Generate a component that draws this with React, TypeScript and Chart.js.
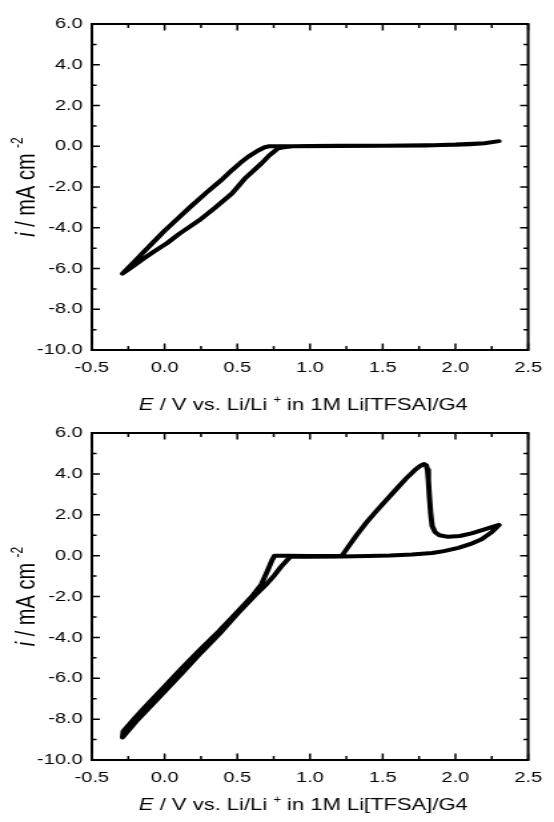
import React, { useEffect, useRef } from "react";
import { Chart, registerables } from "chart.js";

Chart.register(...registerables);

// ---- data ----
const xMajorTicks = [-0.5, 0.0, 0.5, 1.0, 1.5, 2.0, 2.5];
const xMinorTicks = [-0.25, 0.25, 0.75, 1.25, 1.75, 2.25];
const yMajorTicks = [-10, -8, -6, -4, -2, 0, 2, 4, 6];
const yMinorTicks = [-9, -7, -5, -3, -1, 1, 3, 5];

// top panel: potential (V) and current density (mA cm^-2)
const topE = [2.30, 2.20, 2.10, 2.00, 1.80, 1.50, 1.20, 1.00, 0.88, 0.82, 0.78, 0.72, 0.666, 0.55, 0.464, 0.35, 0.24, 0.10, 0.016, -0.07, -0.141, -0.22, -0.28, -0.29,
  -0.20, -0.10, 0.00, 0.10, 0.173, 0.30, 0.40, 0.464, 0.52, 0.576, 0.64, 0.688, 0.72, 0.78, 0.90, 1.20, 1.50, 1.80, 2.00, 2.20, 2.30];
const topI = [0.25, 0.15, 0.10, 0.07, 0.05, 0.03, 0.02, 0.01, 0.00, -0.05, -0.10, -0.45, -0.84, -1.60, -2.31, -3.00, -3.62, -4.30, -4.76, -5.15, -5.50, -5.90, -6.20, -6.25,
  -5.60, -4.87, -4.15, -3.48, -3.00, -2.20, -1.60, -1.17, -0.82, -0.51, -0.22, -0.05, 0.00, 0.00, 0.00, 0.01, 0.02, 0.04, 0.08, 0.15, 0.25];

// bottom panel
const botE = [2.30, 2.25, 2.18, 2.10, 2.02, 1.92, 1.84, 1.70, 1.55, 1.40, 1.22, 1.00, 0.865,
  0.80, 0.756, 0.70, 0.62, 0.50, 0.374, 0.25, 0.12, 0.00, -0.10, -0.20, -0.29,
  -0.285, -0.20, -0.10, 0.00, 0.12, 0.25, 0.374, 0.50, 0.60, 0.666, 0.71, 0.74, 0.756, 0.85, 1.00, 1.22,
  1.27, 1.32, 1.38, 1.44, 1.504, 1.58, 1.661, 1.72, 1.76, 1.785, 1.80, 1.808, 1.814, 1.82, 1.83, 1.84, 1.86, 1.89, 1.95, 2.03, 2.11, 2.20, 2.30];
const botI = [1.50, 1.15, 0.80, 0.56, 0.38, 0.22, 0.13, 0.06, 0.01, -0.02, -0.04, -0.05, -0.05,
  -0.55, -0.95, -1.40, -1.95, -2.85, -3.85, -4.75, -5.75, -6.65, -7.40, -8.15, -8.90,
  -8.60, -7.90, -7.15, -6.40, -5.50, -4.55, -3.70, -2.75, -2.00, -1.40, -0.70, -0.20, 0.00, 0.00, -0.02, 0.00,
  0.50, 1.00, 1.55, 2.05, 2.56, 3.15, 3.78, 4.18, 4.40, 4.48, 4.42, 4.20, 3.70, 3.00, 2.07, 1.45, 1.15, 1.00, 0.92, 0.96, 1.09, 1.28, 1.50];

const xTitleParts = [
  { t: "E", italic: true },
  { t: " / V vs. Li/Li " },
  { t: "+", sup: true },
  { t: " in 1M Li[TFSA]/G4" },
];
const yTitleParts = [
  { t: "i", italic: true },
  { t: " / mA cm " },
  { t: "-2", sup: true },
];

// ---- layout (logical canvas units; canvas is stretched horizontally) ----
const LOGICAL_W = 416;
const PANEL_H = 411;
const PLOT_LEFT = 69;
const PLOT_RIGHT = 404;
const FONT = "'Liberation Sans', Arial, Helvetica, sans-serif";

type Part = { t: string; italic?: boolean; sup?: boolean };

function drawRich(ctx: CanvasRenderingContext2D, parts: Part[], cx: number, baseline: number, size: number) {
  const fontFor = (p: Part) => {
    const s = p.sup ? Math.round(size * 0.62) : size;
    return `${p.italic ? "italic " : ""}${s}px ${FONT}`;
  };
  let total = 0;
  const widths = parts.map((p) => {
    ctx.font = fontFor(p);
    const w = ctx.measureText(p.t).width;
    total += w;
    return w;
  });
  let x = cx - total / 2;
  ctx.textAlign = "left";
  ctx.textBaseline = "alphabetic";
  parts.forEach((p, k) => {
    ctx.font = fontFor(p);
    ctx.fillText(p.t, x, p.sup ? baseline - size * 0.45 : baseline);
    x += widths[k];
  });
}

function buildChart(canvas: HTMLCanvasElement, E: number[], I: number[], plotTop: number, plotBottom: number, titleBaseline: number) {
  const framePlugin = {
    id: "frameTicks",
    afterDraw(chart: any) {
      const { ctx, chartArea } = chart;
      const { left, right, top, bottom } = chartArea;
      const xs = chart.scales.x;
      const ys = chart.scales.y;
      ctx.save();
      ctx.strokeStyle = "#000";
      ctx.lineWidth = 2;
      ctx.strokeRect(left, top, right - left, bottom - top);
      ctx.lineWidth = 1.5;
      const hTick = (vals: number[], len: number) => {
        vals.forEach((v) => {
          const px = xs.getPixelForValue(v);
          ctx.beginPath();
          ctx.moveTo(px, bottom);
          ctx.lineTo(px, bottom - len);
          ctx.moveTo(px, top);
          ctx.lineTo(px, top + len);
          ctx.stroke();
        });
      };
      const vTick = (vals: number[], len: number) => {
        vals.forEach((v) => {
          const py = ys.getPixelForValue(v);
          ctx.beginPath();
          ctx.moveTo(left, py);
          ctx.lineTo(left + len, py);
          ctx.moveTo(right, py);
          ctx.lineTo(right - len, py);
          ctx.stroke();
        });
      };
      hTick(xMajorTicks, 6.5);
      hTick(xMinorTicks, 4);
      vTick(yMajorTicks, 6);
      vTick(yMinorTicks, 3.5);
      ctx.restore();
    },
  };
  const titlePlugin = {
    id: "axisTitles",
    afterDraw(chart: any) {
      const { ctx, chartArea } = chart;
      ctx.save();
      ctx.fillStyle = "#000";
      drawRich(ctx, xTitleParts, (chartArea.left + chartArea.right) / 2 - 5, titleBaseline, 16.5);
      ctx.translate(25.5, (chartArea.top + chartArea.bottom) / 2);
      ctx.rotate(-Math.PI / 2);
      drawRich(ctx, yTitleParts, 0, 0, 20);
      ctx.restore();
    },
  };

  return new Chart(canvas, {
    type: "scatter",
    data: {
      datasets: [
        {
          data: E.map((e, k) => ({ x: e, y: I[k] })),
          showLine: true,
          borderColor: "#000",
          backgroundColor: "#000",
          borderWidth: 4,
          pointRadius: 0,
          tension: 0,
          borderJoinStyle: "round",
          borderCapStyle: "round",
          fill: false,
        } as any,
      ],
    },
    options: {
      responsive: false,
      animation: false,
      devicePixelRatio: 1,
      layout: { padding: { left: 0, right: LOGICAL_W - PLOT_RIGHT, top: plotTop, bottom: 0 } },
      plugins: { legend: { display: false }, tooltip: { enabled: false } },
      scales: {
        x: {
          type: "linear",
          min: -0.5,
          max: 2.5,
          afterBuildTicks: (s: any) => {
            s.ticks = xMajorTicks.map((v) => ({ value: v }));
          },
          afterFit: (s: any) => {
            s.height = PANEL_H - plotBottom;
          },
          ticks: {
            callback: (v: any) => Number(v).toFixed(1),
            color: "#000",
            font: { family: FONT, size: 15 },
            padding: 9,
            maxRotation: 0,
            autoSkip: false,
          },
          grid: { display: false, drawTicks: false },
          border: { display: false },
        },
        y: {
          type: "linear",
          min: -10,
          max: 6,
          afterBuildTicks: (s: any) => {
            s.ticks = yMajorTicks.map((v) => ({ value: v }));
          },
          afterFit: (s: any) => {
            s.width = PLOT_LEFT;
          },
          ticks: {
            callback: (v: any) => Number(v).toFixed(1),
            color: "#000",
            font: { family: FONT, size: 15 },
            padding: 7,
            autoSkip: false,
          },
          grid: { display: false, drawTicks: false },
          border: { display: false },
        },
      },
    } as any,
    plugins: [framePlugin, titlePlugin],
  });
}

export default function App() {
  const r1 = useRef<HTMLCanvasElement>(null);
  const r2 = useRef<HTMLCanvasElement>(null);
  useEffect(() => {
    const c1 = buildChart(r1.current!, topE, topI, 24, 350, 410);
    const c2 = buildChart(r2.current!, botE, botI, 22, 349, 399);
    return () => {
      c1.destroy();
      c2.destroy();
    };
  }, []);
  const st = (top: number): React.CSSProperties => ({
    position: "absolute",
    left: 0,
    top,
    width: "554px",
    height: `${PANEL_H}px`,
    display: "block",
  });
  return (
    <div style={{ position: "absolute", left: 0, top: 0, width: 554, height: 822, background: "#fff" }}>
      <canvas ref={r1} width={LOGICAL_W} height={PANEL_H} style={st(0)} />
      <canvas ref={r2} width={LOGICAL_W} height={PANEL_H} style={st(PANEL_H)} />
    </div>
  );
}
